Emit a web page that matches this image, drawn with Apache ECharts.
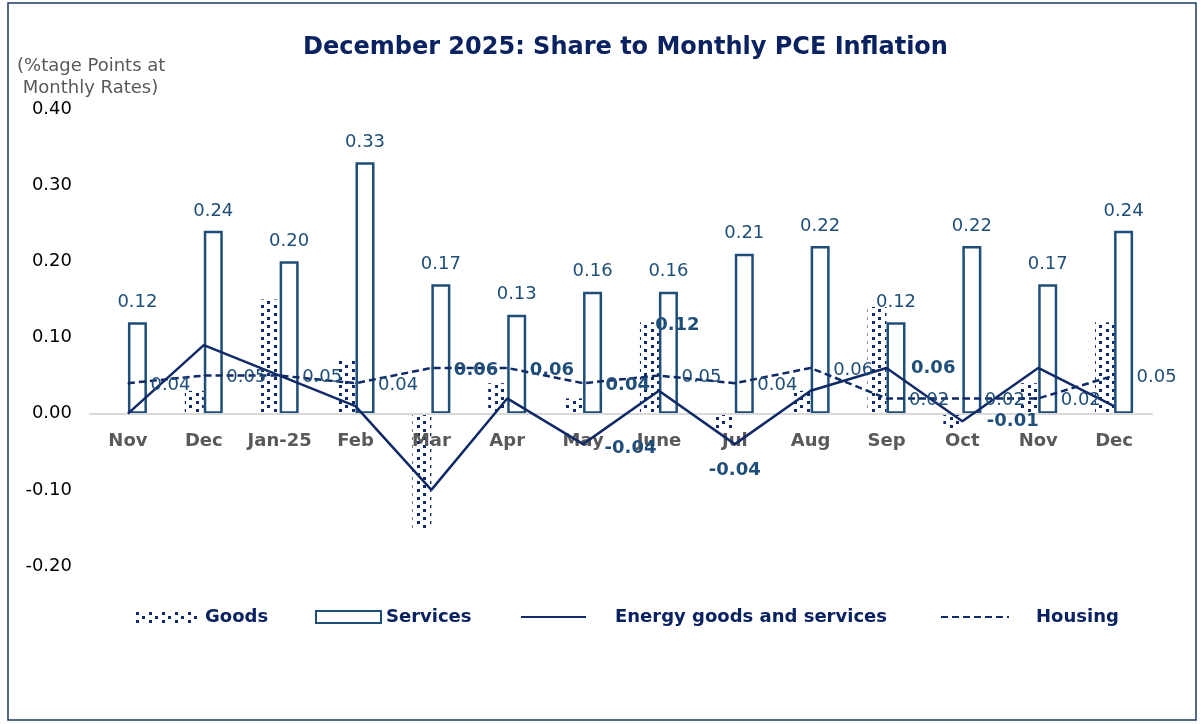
<!DOCTYPE html>
<html>
<head>
<meta charset="utf-8">
<script src="https://cdn.jsdelivr.net/npm/echarts@6/dist/echarts.min.js"></script>
<style>
  html, body { margin: 0; padding: 0; background: #fff; }
  #chart { width: 1203px; height: 724px; }
</style>
</head>
<body>
<div id="chart"></div>
<script>
  const categories = ['Nov', 'Dec', 'Jan-25', 'Feb', 'Mar', 'Apr', 'May', 'June', 'Jul', 'Aug', 'Sep', 'Oct', 'Nov', 'Dec']
  const goods = [0, 0.03, 0.15, 0.07, -0.15, 0.04, 0.02, 0.12, -0.02, 0.03, 0.14, -0.02, 0.04, 0.12]
  const services = [0.12, 0.24, 0.20, 0.33, 0.17, 0.13, 0.16, 0.16, 0.21, 0.22, 0.12, 0.22, 0.17, 0.24]
  const energy = [0, 0.09, 0.05, 0.01, -0.10, 0.02, -0.04, 0.03, -0.04, 0.03, 0.06, -0.01, 0.06, 0.01]
  const housing = [0.04, 0.05, 0.05, 0.04, 0.06, 0.06, 0.04, 0.05, 0.04, 0.06, 0.02, 0.02, 0.02, 0.05]
  const yTicks = [-0.2, -0.1, 0, 0.1, 0.2, 0.3, 0.4]

  const navy = '#0f2a66'
  const steel = '#1f4e79'
  const font = 'DejaVu Sans'
  const fmt = p => Number(p.value).toFixed(2)

  // dotted fill for the goods bars (staggered dots)
  function dotPattern () {
    let c = document.createElement('canvas')
    c.width = 13
    c.height = 8
    let ctx = c.getContext('2d')
    ctx.fillStyle = '#ffffff'
    ctx.fillRect(0, 0, 13, 8)
    ctx.fillStyle = navy
    ctx.fillRect(1, 1, 3, 3)
    ctx.fillRect(7, 5, 3, 3)
    return c
  }
  const dots = {image: dotPattern(), repeat: 'repeat'}

  // which points carry a label and where (hand placed, as in the source)
  const energyLabels = {
    6: {position: 'right', distance: 21, offset: [0, 4]},
    8: {position: 'bottom', distance: 17},
    10: {position: 'right', distance: 24},
    11: {position: 'right', distance: 24}
  }
  const housingBold = [4, 5, 6]
  const goodsLabels = {7: {position: 'top', offset: [28, 17]}}

  const energyData = energy.map((v, i) => {
    let l = energyLabels[i]
    if (!l) return v
    return {
      value: v,
      symbol: 'circle',
      symbolSize: 1,
      label: Object.assign({show: true, color: steel, fontWeight: 'bold', fontSize: 18, fontFamily: font, formatter: fmt}, l)
    }
  })
  const housingData = housing.map((v, i) => ({
    value: v,
    symbol: 'circle',
    symbolSize: 1,
    label: {
      show: true,
      position: 'right',
      distance: 22,
      offset: [0, 2],
      color: steel,
      fontSize: 18,
      fontFamily: font,
      fontWeight: housingBold.indexOf(i) > -1 ? 'bold' : 'normal',
      formatter: fmt
    }
  }))
  const goodsData = goods.map((v, i) => {
    let l = goodsLabels[i]
    if (!l) return v
    return {
      value: v,
      label: Object.assign({show: true, color: steel, fontWeight: 'bold', fontSize: 18, fontFamily: font, formatter: fmt}, l)
    }
  })

  const legendText = {color: '#0a2260', fontWeight: 'bold', fontSize: 18, fontFamily: font}

  let chart = echarts.init(document.getElementById('chart'), null, {renderer: 'canvas'})
  chart.setOption({
    backgroundColor: '#fff',
    animation: false,
    title: {
      text: 'December 2025: Share to Monthly PCE Inflation',
      left: 298,
      top: 31,
      textStyle: {color: '#0a2260', fontSize: 24, fontWeight: 'bold', fontFamily: font}
    },
    graphic: [
      {
        type: 'rect',
        shape: {x: 8, y: 3, width: 1188, height: 717},
        style: {fill: 'none', stroke: '#1f3864', lineWidth: 1.5},
        silent: true
      },
      {
        type: 'text',
        left: 17,
        top: 55,
        style: {
          text: '(%tage Points at\n Monthly Rates)',
          fill: '#595959',
          fontSize: 18,
          lineHeight: 22,
          fontFamily: font
        }
      }
    ],
    legend: [
      {data: ['Goods'], icon: 'rect', left: 130, top: 603, itemWidth: 65, itemHeight: 12, textStyle: legendText},
      {data: ['Services'], icon: 'rect', left: 310, top: 603, itemWidth: 65, itemHeight: 12, textStyle: legendText},
      {
        data: ['Energy goods and services'], left: 515, top: 603, itemWidth: 65, itemHeight: 12,
        itemStyle: {opacity: 0},
        textStyle: Object.assign({padding: [0, 0, 0, 24]}, legendText)
      },
      {
        data: ['Housing'], left: 935, top: 603, itemWidth: 68, itemHeight: 12,
        itemStyle: {opacity: 0},
        textStyle: Object.assign({padding: [0, 0, 0, 22]}, legendText)
      }
    ],
    grid: {left: 90, right: 51, top: 109, bottom: 158},
    xAxis: {
      type: 'category',
      data: categories,
      z: 10,
      axisTick: {show: false},
      axisLine: {onZero: true, lineStyle: {color: '#d9d9d9', width: 2}},
      // labels sit just under the zero line, as in the source
      axisLabel: {color: '#595959', fontWeight: 'bold', fontSize: 18, fontFamily: font, margin: -134, interval: 0}
    },
    yAxis: {
      type: 'value',
      min: yTicks[0],
      max: yTicks[yTicks.length - 1],
      interval: 0.1,
      splitLine: {show: false},
      axisLine: {show: false},
      axisTick: {show: false},
      axisLabel: {
        color: '#000',
        fontSize: 18,
        fontFamily: font,
        margin: 18,
        formatter: v => v.toFixed(2)
      }
    },
    series: [
      {
        name: 'Goods',
        type: 'bar',
        barWidth: 19,
        barGap: '0%',
        data: goodsData,
        itemStyle: {color: dots}
      },
      {
        name: 'Services',
        type: 'bar',
        barWidth: 19,
        data: services,
        itemStyle: {color: '#fff', borderColor: steel, borderWidth: 2.5},
        label: {show: true, position: 'top', distance: 11, color: steel, fontSize: 18, fontFamily: font, formatter: fmt}
      },
      {
        name: 'Energy goods and services',
        type: 'line',
        symbol: 'none',
        data: energyData,
        z: 12,
        lineStyle: {color: navy, width: 2.5},
        itemStyle: {color: navy}
      },
      {
        name: 'Housing',
        type: 'line',
        symbol: 'none',
        data: housingData,
        z: 12,
        lineStyle: {color: navy, width: 2.5, type: [7, 4]},
        itemStyle: {color: navy}
      }
    ]
  })
</script>
</body>
</html>
